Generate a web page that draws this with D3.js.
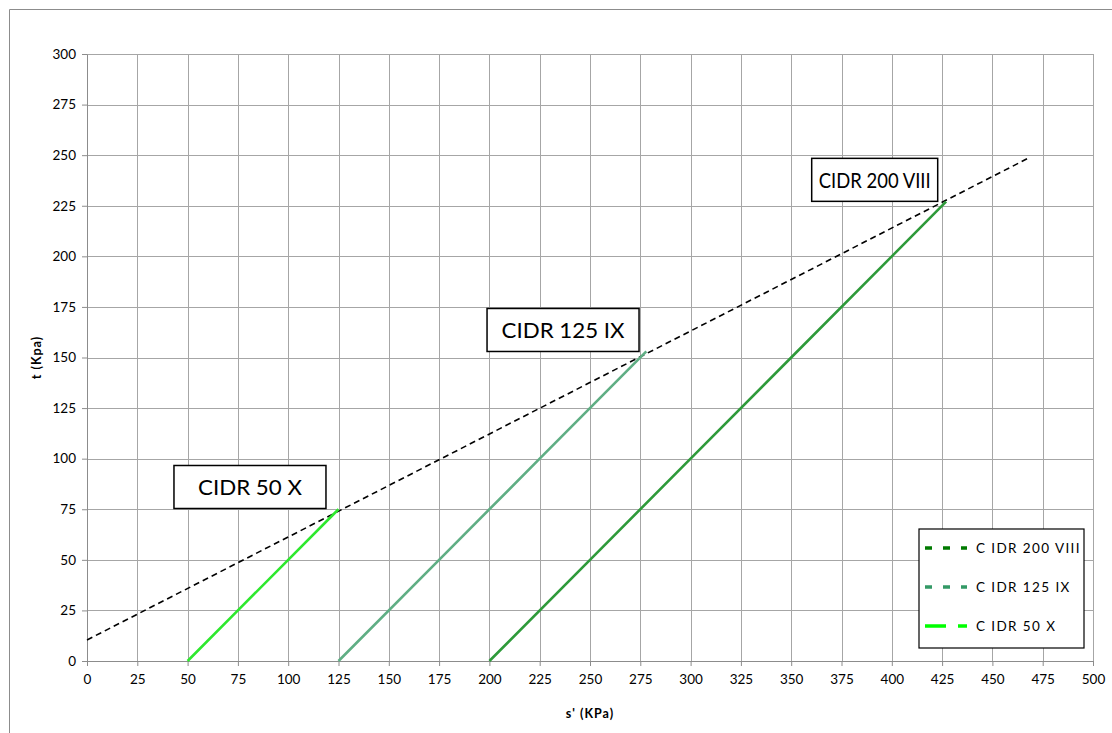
<!DOCTYPE html>
<html>
<head>
<meta charset="utf-8">
<script src="https://cdn.jsdelivr.net/npm/d3@7"></script>
<style>
  body { margin: 0; background: #fff; }
  svg { display: block; font-family: Lato, "Open Sans", sans-serif; }
</style>
</head>
<body>
<div id="chart"></div>
<script>
// chart values
const xTicks = d3.range(0, 501, 25);
const yTicks = d3.range(0, 301, 25);
const seriesNames = ['CIDR 200 VIII', 'CIDR 125 IX', 'CIDR 50 X'];
const legendNames = ['C IDR  200 VIII', 'C IDR  125 IX', 'C IDR  50 X'];
const cidr200 = [[200, 0], [250, 50], [300, 100], [350, 150], [400, 200], [427, 227]];
const cidr125 = [[125, 0], [175, 50], [225, 100], [278, 153]];
const cidr50 = [[50, 0], [75, 25], [100, 50], [125, 75]];
const envelope = [[0, 10.4], [468, 248.6]];
// label anchor points (data units): centre of each note box
const notePos = [[391.5, 237.8], [236.6, 163.6], [81, 86]];

const W = 1112, H = 733;
const margin = { top: 54, right: 19, bottom: 72, left: 87 };
const width = W - margin.left - margin.right;
const height = H - margin.top - margin.bottom;

const svg = d3.select('#chart').append('svg')
  .attr('width', W)
  .attr('height', H);

// outer chart frame
svg.append('path')
  .attr('d', `M9.5,${H} V9.5 H${W}`)
  .attr('fill', 'none')
  .attr('stroke', '#8c8c8c')
  .attr('stroke-width', 1);

const x = d3.scaleLinear().domain([0, 500]).range([0, width]);
const y = d3.scaleLinear().domain([0, 300]).range([height, 0]);

const chart = svg.append('g')
  .attr('transform', `translate(${margin.left}, ${margin.top})`);

// grid
chart.append('g')
  .selectAll('line')
  .data(xTicks)
  .join('line')
  .attr('x1', d => Math.round(x(d)) + 0.5)
  .attr('x2', d => Math.round(x(d)) + 0.5)
  .attr('y1', 0)
  .attr('y2', height)
  .attr('stroke', '#a6a6a6');

chart.append('g')
  .selectAll('line')
  .data(yTicks)
  .join('line')
  .attr('y1', d => Math.round(y(d)) + 0.5)
  .attr('y2', d => Math.round(y(d)) + 0.5)
  .attr('x1', 0)
  .attr('x2', width)
  .attr('stroke', '#a6a6a6');

// axes
const xAxis = chart.append('g')
  .attr('transform', `translate(0, ${height})`)
  .call(d3.axisBottom(x).tickValues(xTicks).tickSize(5).tickPadding(8).tickSizeOuter(0));
const yAxis = chart.append('g')
  .call(d3.axisLeft(y).tickValues(yTicks).tickSize(5).tickPadding(6).tickSizeOuter(0));

[xAxis, yAxis].forEach(a => {
  a.selectAll('path, line').attr('stroke', '#8c8c8c');
  a.selectAll('text').attr('fill', '#000').style('font-size', '13.5px').style('font-family', 'Lato, "Open Sans", sans-serif');
});

// axis titles
svg.append('text')
  .attr('x', margin.left + x(250))
  .attr('y', 718)
  .attr('text-anchor', 'middle')
  .style('font-size', '12.5px')
  .style('font-weight', 'bold')
  .style('letter-spacing', '1px')
  .text("s' (KPa)");

svg.append('text')
  .attr('transform', `translate(41, ${margin.top + y(150)}) rotate(-90)`)
  .attr('text-anchor', 'middle')
  .style('font-size', '12.5px')
  .style('font-weight', 'bold')
  .style('letter-spacing', '1px')
  .text('t (Kpa)');

// failure envelope
const line = d3.line().x(d => x(d[0])).y(d => y(d[1]));

chart.append('path')
  .datum(envelope)
  .attr('d', line)
  .attr('fill', 'none')
  .attr('stroke', '#000')
  .attr('stroke-width', 1.6)
  .attr('stroke-dasharray', '6,4');

// stress paths
const plotColors = ['#2e9a3a', '#5fae84', '#2ee82e'];
const legendColors = ['#007a00', '#339966', '#00ff00'];
const legendDash = ['7,11', '7,11', '21,12'];
const allSeries = [cidr200, cidr125, cidr50];

allSeries.forEach((s, i) => {
  chart.append('path')
    .datum(s)
    .attr('d', line)
    .attr('fill', 'none')
    .attr('stroke', plotColors[i])
    .attr('stroke-width', 2.6);
});

// note boxes
const boxW = [126, 152, 152], boxH = 43;
const textW = [112, 123, 104];
seriesNames.forEach((name, i) => {
  const cx = x(notePos[i][0]), cy = y(notePos[i][1]);
  const g = chart.append('g').attr('transform', `translate(${cx}, ${cy})`);
  g.append('rect')
    .attr('x', -boxW[i] / 2)
    .attr('y', -boxH / 2)
    .attr('width', boxW[i])
    .attr('height', boxH)
    .attr('fill', '#fff')
    .attr('stroke', '#000')
    .attr('stroke-width', 1.5);
  g.append('text')
    .attr('text-anchor', 'middle')
    .attr('dy', '0.36em')
    .attr('textLength', textW[i])
    .attr('lengthAdjust', 'spacingAndGlyphs')
    .style('font-size', '22px')
    .text(name);
});

// legend
const legend = chart.append('g')
  .attr('transform', `translate(${919 - margin.left}, ${529 - margin.top})`);
legend.append('rect')
  .attr('width', 165)
  .attr('height', 119)
  .attr('fill', '#fff')
  .attr('stroke', '#000')
  .attr('stroke-width', 1.2);

legendNames.forEach((name, i) => {
  const ly = 19 + i * 39;
  legend.append('line')
    .attr('x1', 6)
    .attr('x2', 48)
    .attr('y1', ly)
    .attr('y2', ly)
    .attr('stroke', legendColors[i])
    .attr('stroke-width', 3.5)
    .attr('stroke-dasharray', legendDash[i]);
  legend.append('text')
    .attr('x', 57)
    .attr('y', ly)
    .attr('dy', '0.35em')
    .style('font-size', '13.5px')
    .style('letter-spacing', '1.4px')
    .text(name);
});
</script>
</body>
</html>
